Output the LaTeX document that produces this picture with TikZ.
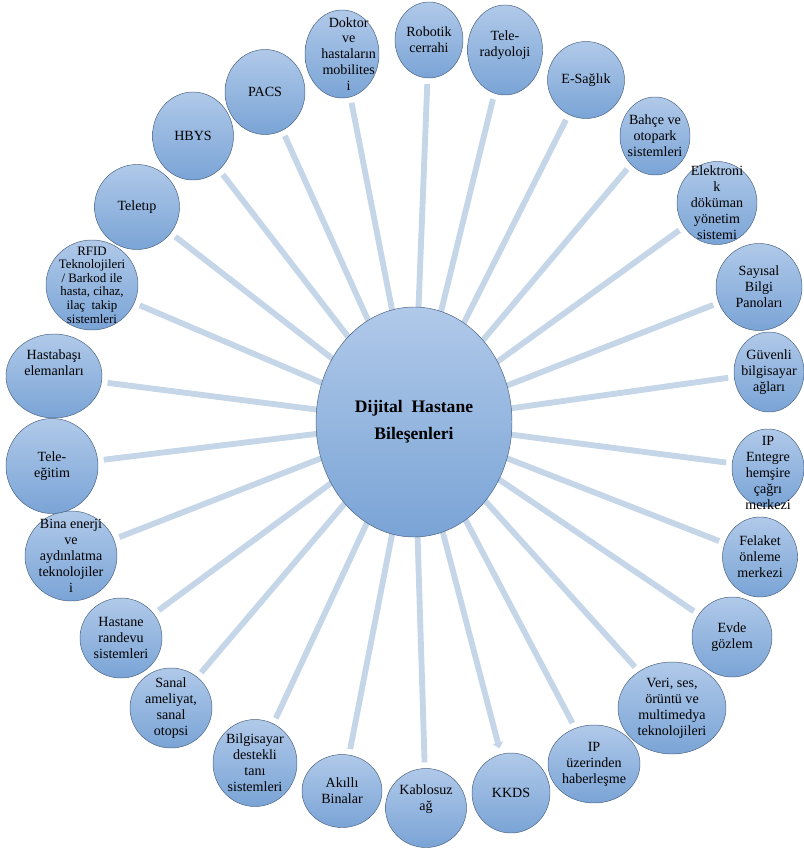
\documentclass[tikz,border=0pt]{standalone}
\usepackage{fontspec}
\setmainfont{Liberation Serif}
\usetikzlibrary{arrows.meta,shapes.geometric,backgrounds}
\definecolor{linkblue}{RGB}{198,214,233}
\definecolor{rimgray}{RGB}{72,96,126}
\definecolor{topblue}{RGB}{176,201,233}
\definecolor{lowblue}{RGB}{122,164,214}

\begin{document}
\begin{tikzpicture}[x=0.03cm, y=-0.03cm,
  part/.style 2 args={ellipse, draw=rimgray, thin, top color=topblue, bottom color=lowblue,
    inner sep=0pt, minimum width=#1*0.03cm, minimum height=#2*0.03cm},
  parttext/.style={align=center, font=\fontsize{12}{13.6}\selectfont},
  link/.style={draw=linkblue, line width=5pt, shorten >=5pt}]
\useasboundingbox (0,0) rectangle (803,850);
\node[part={196}{230}, align=center, font=\bfseries\fontsize{15}{23}\selectfont] (hub) at (414,422) {Dijital\ \ Hastane\\Bileşenleri};
\node[part={68}{76}, label={[parttext]center:Robotik\\cerrahi}] (robot) at (429,40) {};
\node[part={74}{88}, label={[parttext, xshift=0.2cm]center:Doktor\\ve\\hastaların\\mobilites\\i}] (doktor) at (342,54) {};
\node[part={75}{90}, label={[parttext, yshift=0.15cm]center:Tele-\\radyoloji}] (radyo) at (505,50) {};
\node[part={77}{77}, label={[parttext]center:E-Sağlık}] (esaglik) at (586,80) {};
\node[part={70}{78}, label={[parttext]center:Bahçe ve\\otopark\\sistemleri}] (bahce) at (655,136) {};
\node[part={80}{83}, label={[parttext]center:Elektroni\\k\\döküman\\yönetim\\sistemi}] (elektro) at (717,203) {};
\node[part={86}{87}, label={[parttext]center:Sayısal\\Bilgi\\Panoları}] (sayisal) at (759,287) {};
\node[part={70}{80}, label={[parttext]center:Güvenli\\bilgisayar\\ağları}] (guvenli) at (769,372) {};
\node[part={72}{78}, label={[parttext, yshift=-0.15cm]center:IP\\Entegre\\hemşire\\çağrı\\merkezi}] (ipentegre) at (768,468) {};
\node[part={75}{80}, label={[parttext]center:Felaket\\önleme\\merkezi}] (felaket) at (760,557) {};
\node[part={80}{80}, label={[parttext]center:Evde\\gözlem}] (evde) at (732,637) {};
\node[part={108}{92}, label={[parttext]center:Veri, ses,\\örüntü ve\\multimedya\\teknolojileri}] (veri) at (672,708) {};
\node[part={92}{78}, label={[parttext]center:IP\\üzerinden\\haberleşme}] (ipuzer) at (594,764) {};
\node[part={78}{80}, label={[parttext]center:KKDS}] (kkds) at (511,793) {};
\node[part={81}{79}, label={[parttext, yshift=0.27cm]center:Kablosuz\\ağ}] (kablo) at (426,808) {};
\node[part={80}{73}, label={[parttext]center:Akıllı\\Binalar}] (akilli) at (342,791) {};
\node[part={84}{87}, label={[parttext]center:Bilgisayar\\destekli\\tanı\\sistemleri}] (tani) at (255,763) {};
\node[part={82}{80}, label={[parttext]center:Sanal\\ameliyat,\\sanal\\otopsi}] (sanal) at (171,708) {};
\node[part={82}{80}, label={[parttext]center:Hastane\\randevu\\sistemleri}] (randevu) at (121,638) {};
\node[part={92}{90}, label={[parttext]center:Bina enerji\\ve\\aydınlatma\\teknolojiler\\i}] (bina) at (71,556) {};
\node[part={92}{95}, label={[parttext]center:Tele-\\eğitim}] (egitim) at (52,466) {};
\node[part={96}{84}, label={[parttext, yshift=0.4cm]center:Hastabaşı\\elemanları}] (hastabasi) at (54,376) {};
\node[part={92}{90}, label={[parttext, font=\fontsize{11}{11.6}\selectfont]center:RFID\\Teknolojileri\\/ Barkod ile\\hasta, cihaz,\\ilaç~~takip\\sistemleri}] (rfid) at (92,285) {};
\node[part={85}{85}, label={[parttext]center:Teletıp}] (teletip) at (137,207) {};
\node[part={81}{88}, label={[parttext]center:HBYS}] (hbys) at (193,136) {};
\node[part={80}{85}, label={[parttext]center:PACS}] (pacs) at (265,92) {};
\begin{scope}[on background layer]
\foreach \p in {robot,doktor,radyo,esaglik,bahce,elektro,sayisal,guvenli,ipentegre,felaket,
  evde,veri,ipuzer,kablo,akilli,tani,sanal,randevu,bina,egitim,hastabasi,rfid,teletip,hbys,pacs}
  \draw[link] (hub.center) -- (\p);
\draw[link, -{Triangle[length=5pt,width=9pt]}] (hub.center) -- (kkds);
\end{scope}
\end{tikzpicture}
\end{document}
